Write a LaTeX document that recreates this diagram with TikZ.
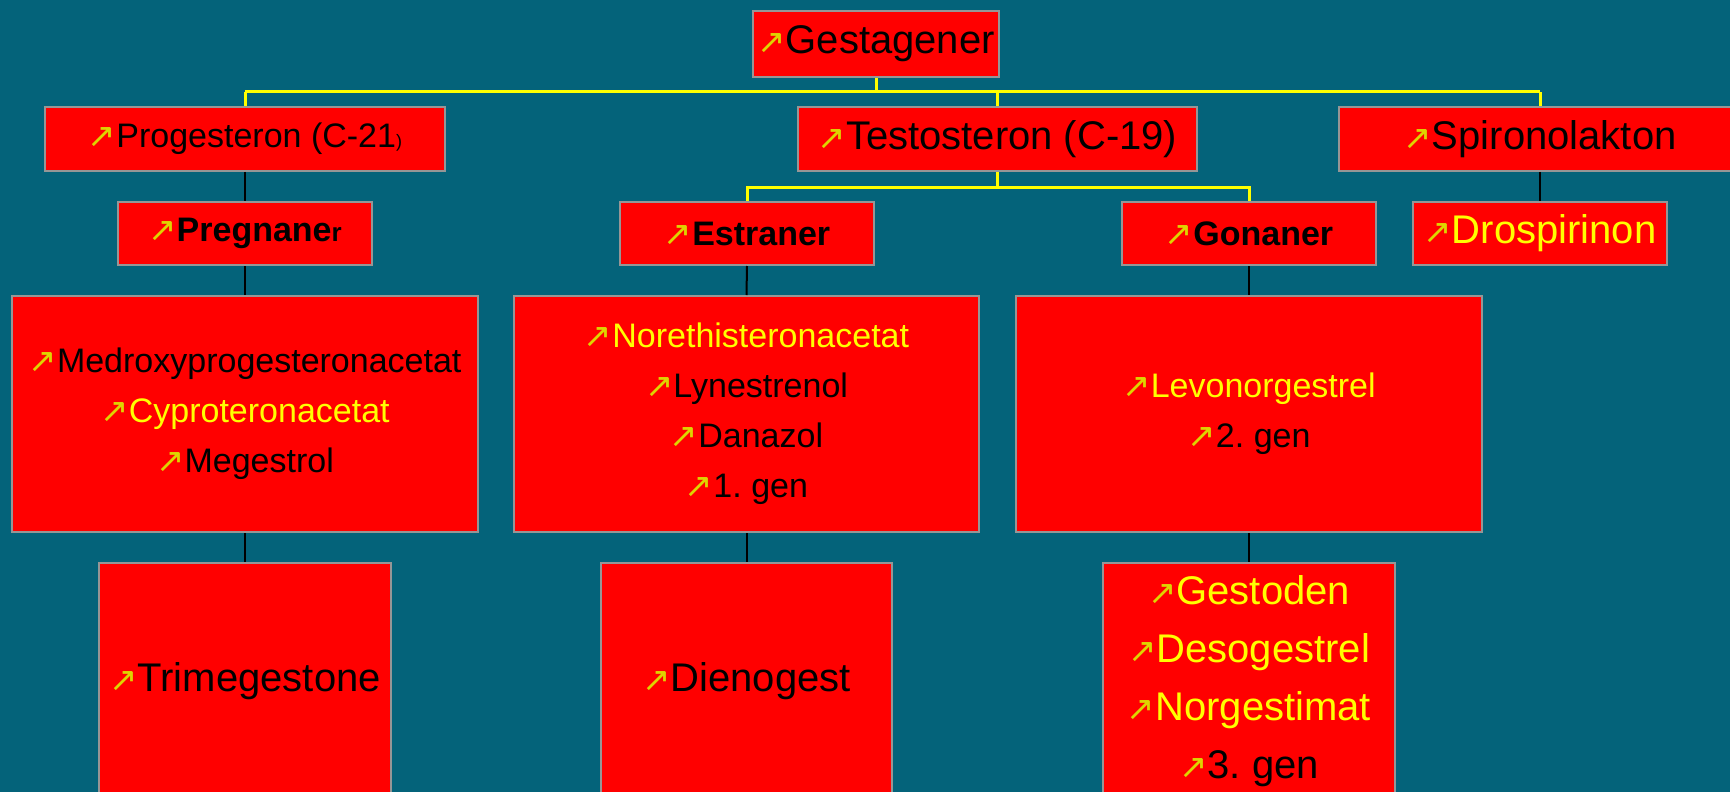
\documentclass[tikz,border=0pt]{standalone}
\usepackage{fontspec}
\setmainfont{Liberation Sans}
\newfontfamily\symfont{DejaVu Sans}
\usetikzlibrary{positioning}

\definecolor{bgteal}{RGB}{4,99,122}
\definecolor{boxred}{RGB}{255,0,0}
\definecolor{boxgray}{RGB}{150,150,150}
\definecolor{linkyel}{RGB}{255,255,0}
\definecolor{arrowyel}{RGB}{222,212,0}

\newcommand{\arr}{{\symfont\fontsize{17}{17}\selectfont\color{arrowyel}↗}}
\newcommand{\yel}[1]{\textcolor{linkyel}{#1}}
\newcommand{\bigtxt}{\fontsize{20}{29}\selectfont}
\newcommand{\smalltxt}{\fontsize{17}{25}\selectfont}
\frenchspacing

\begin{document}
\begin{tikzpicture}[x=0.5pt, y=-0.5pt,
    drug/.style={draw=boxgray, line width=1pt, fill=boxred, align=center, inner sep=0pt},
    ylink/.style={linkyel, line width=1.5pt},
    blink/.style={black, line width=1pt}]
            % background
            \fill[bgteal] (0,0) rectangle (1730,792);
            \useasboundingbox (0,0) rectangle (1730,792);
            \clip (0,0) rectangle (1730,792);

            % top row
            \node[drug, font=\bigtxt, minimum width=123pt, minimum height=33pt] (gest) at (876,44) {\arr Gestagener};
            \node[drug, font=\smalltxt, minimum width=200pt, minimum height=32pt] (prog) at (245,139) {\arr Progesteron (C-21{\fontsize{9}{9}\selectfont)}};
            \node[drug, font=\bigtxt, minimum width=199.5pt, minimum height=32pt] (testo) at (997.5,139) {\arr Testosteron (C-19)};
            \node[drug, font=\bigtxt, minimum width=201pt, minimum height=32pt] (spiro) at (1540,139) {\arr Spironolakton};

            % groups
            \node[drug, font=\smalltxt, minimum width=127pt, minimum height=31.5pt] (preg) at (245,233.5) {\arr\textbf{Pregnane{\fontsize{13}{13}\selectfont r}}};
            \node[drug, font=\smalltxt, minimum width=127pt, minimum height=31.5pt] (estr) at (747,233.5) {\arr\textbf{Estraner}};
            \node[drug, font=\smalltxt, minimum width=127pt, minimum height=31.5pt] (gona) at (1249,233.5) {\arr\textbf{Gonaner}};
            \node[drug, font=\bigtxt, minimum width=127pt, minimum height=31.5pt] (dros) at (1540,233.5) {\arr\yel{Drospirinon}};

            % substances
            \node[drug, font=\smalltxt, minimum width=233pt, minimum height=118pt] (pgrp) at (245,414)
                {\arr Medroxyprogesteronacetat\\ \arr\yel{Cyproteronacetat}\\ \arr Megestrol};
            \node[drug, font=\smalltxt, minimum width=232.5pt, minimum height=118pt] (egrp) at (746.5,414)
                {\arr\yel{Norethisteronacetat}\\ \arr Lynestrenol\\ \arr Danazol\\ \arr 1. gen};
            \node[drug, font=\smalltxt, minimum width=233pt, minimum height=118pt] (ggrp) at (1249,414)
                {\arr\yel{Levonorgestrel}\\ \arr 2. gen};

            % newer ones
            \node[drug, font=\bigtxt, minimum width=146pt, minimum height=118pt] (trim) at (245,681) {\arr Trimegestone};
            \node[drug, font=\bigtxt, minimum width=145.5pt, minimum height=118pt] (dien) at (746.5,681) {\arr Dienogest};
            \node[drug, font=\bigtxt, minimum width=146pt, minimum height=118pt] (gen3) at (1249,681)
                {\arr\yel{Gestoden}\\ \arr\yel{Desogestrel}\\ \arr\yel{Norgestimat}\\ \arr 3. gen};

            % yellow links
            \coordinate (ybar) at (0,92);
            \coordinate (tbar) at (0,187);
            \draw[ylink] (gest.south) -- (gest.south |- ybar);
            \draw[ylink] (prog.north |- ybar) -- (spiro.north |- ybar);
            \foreach \n in {prog,testo,spiro}
                \draw[ylink] (\n.north) -- (\n.north |- ybar);
            \draw[ylink] (testo.south) -- (testo.south |- tbar);
            \draw[ylink] (estr.north) |- (gona.north |- tbar) -- (gona.north);

            % black links
            \foreach \a/\b in {prog/preg, preg/pgrp, pgrp/trim, estr/egrp, egrp/dien, gona/ggrp, ggrp/gen3, spiro/dros}
                \draw[blink] (\a.south) -- (\b.north);
\end{tikzpicture}
\end{document}
